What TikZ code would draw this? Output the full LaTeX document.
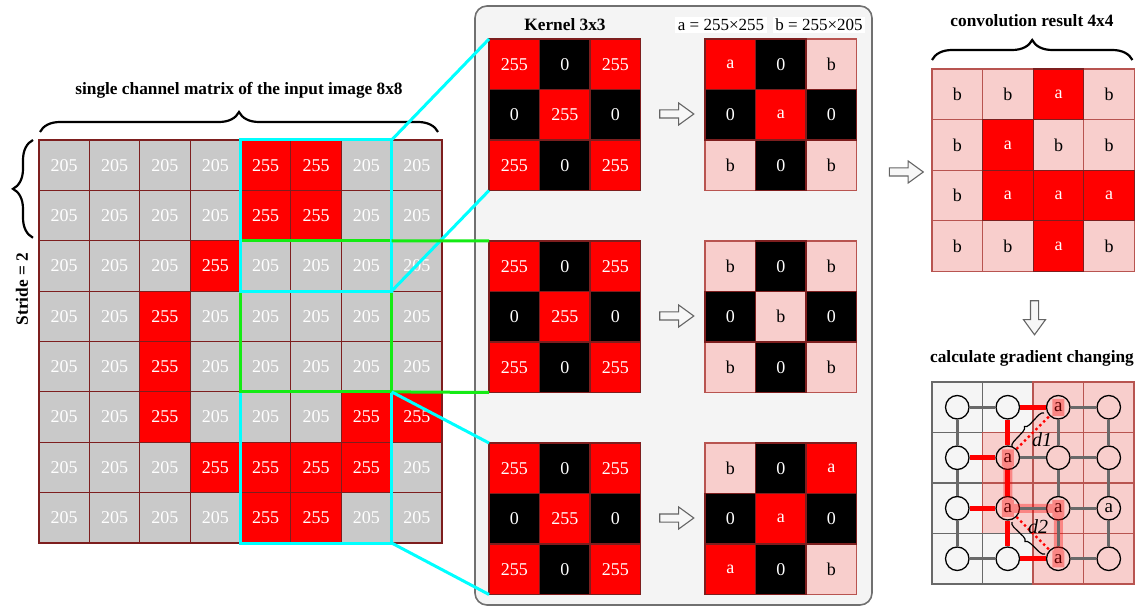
\documentclass[tikz,border=0pt]{standalone}
\usepackage{fontspec}
\setmainfont{Liberation Serif}
\usetikzlibrary{shapes.arrows,decorations.pathreplacing,calc}
\definecolor{maroonb}{RGB}{125,30,30}
\definecolor{cellgray}{RGB}{201,201,201}
\definecolor{pinkc}{RGB}{248,206,204}
\definecolor{pinkb}{RGB}{184,84,80}
\definecolor{panelf}{RGB}{244,244,244}
\definecolor{panelb}{RGB}{112,112,112}
\definecolor{cyanl}{RGB}{0,255,255}
\definecolor{greenl}{RGB}{20,235,20}
\definecolor{gridg}{RGB}{105,105,105}
\definecolor{lightg}{RGB}{245,245,245}
\definecolor{arrowb}{RGB}{100,100,100}
\begin{document}
\begin{tikzpicture}[x=1pt,y=-1pt,
  cellfont/.style={font=\fontsize{18}{18}\selectfont},
  cellbox/.style={draw=maroonb, line width=1.2pt, inner sep=0pt, outer sep=0pt, cellfont},
  in0/.style={cellbox, fill=cellgray, text=white},
  in1/.style={cellbox, fill=red, text=white},
  kc0/.style={cellbox, fill=black, text=white},
  kc1/.style={cellbox, fill=red, text=white},
  rc0/.style={cellbox, fill=black, text=white},
  rc1/.style={cellbox, fill=red, text=white},
  rc2/.style={cellbox, fill=pinkc, draw=pinkb, text=black},
  gc0/.style={draw=gridg, line width=1.1pt, fill=lightg, inner sep=0pt, outer sep=0pt, minimum size=50.5pt},
  gc1/.style={draw=pinkb, line width=1.1pt, fill=pinkc, inner sep=0pt, outer sep=0pt, minimum size=50.5pt},
  dot/.style={circle, draw=black, line width=1.3pt, minimum size=23.5pt, inner sep=0pt, font=\fontsize{19}{19}\selectfont},
  title/.style={font=\fontsize{17.3}{17.3}\selectfont\bfseries, inner sep=1pt},
  eqlabel/.style={font=\fontsize{17}{17}\selectfont, fill=white, inner sep=2.5pt},
  hollowarrow/.style={single arrow, draw=arrowb, fill=white!97!black, line width=1.1pt, inner xsep=0pt, inner ysep=3.5pt,
    minimum height=34pt, minimum width=21pt, single arrow head extend=7pt, single arrow tip angle=72},
  bracestyle/.style={decorate, decoration={brace, amplitude=20pt, aspect=0.5}, line width=2.2pt},
  smallbrace/.style={decorate, decoration={brace, amplitude=5pt, aspect=0.5}, line width=1.2pt},
  cyanline/.style={cyanl, line width=3pt},
  greenline/.style={greenl, line width=3pt},
  greyedge/.style={gridg, line width=3pt},
  rededge/.style={red, line width=5pt},
  reddots/.style={red, line width=2.4pt, dash pattern=on 2.4pt off 3pt},
]
\useasboundingbox (0,0) rectangle (1137,609);

% ---------- input matrix ----------
\foreach \vals [count=\rr from 0] in {{0,0,0,0,1,1,0,0},{0,0,0,0,1,1,0,0},{0,0,0,1,0,0,0,0},{0,0,1,0,0,0,0,0},{0,0,1,0,0,0,0,0},{0,0,1,0,0,0,1,1},{0,0,0,1,1,1,1,0},{0,0,0,0,1,1,0,0}}{
  \foreach \v [count=\cc from 0] in \vals {
    \node[in\v, minimum size=50.375pt] (in-\rr-\cc) at ({39+50.375*(\cc+0.5)},{140+50.375*(\rr+0.5)}) {\ifcase\v\relax 205\or 255\fi};
  }
}

\node[title] (intitle) at (239,90) {single channel matrix of the input image 8x8};
\draw[bracestyle] ($(in-0-0.north west)+(1,-8)$) -- ($(in-0-7.north east)+(-4,-8)$);
\draw[bracestyle] ($(in-1-0.south west)+(-6,-3)$) -- ($(in-0-0.north west)+(-6,0)$);
\node[title, rotate=90] (stride) at (22,289) {Stride = 2};

% ---------- panel ----------
\node[draw=panelb, fill=panelf, line width=1.6pt, rounded corners=12pt, minimum width=397pt, minimum height=599pt, inner sep=0pt] (panel) at (673.5,305.5) {};

% kernels
\foreach \k/\t in {1/39,2/241,3/443}{
  \foreach \v [count=\i from 0] in {1,0,1,0,1,0,1,0,1}{
    \pgfmathtruncatemacro\rr{\i/3}
    \pgfmathtruncatemacro\cc{mod(\i,3)}
    \node[kc\v, minimum size=50.5pt] (k\k-\rr-\cc) at ({489+50.5*(\cc+0.5)},{\t+50.5*(\rr+0.5)}) {\ifcase\v\relax 0\or 255\fi};
  }
}
% results
\foreach \k/\t/\vals in {1/39/{1,0,2,0,1,0,2,0,2},2/241/{2,0,2,0,2,0,2,0,2},3/443/{2,0,1,0,1,0,1,0,2}}{
  \foreach \v [count=\i from 0] in \vals {
    \pgfmathtruncatemacro\rr{\i/3}
    \pgfmathtruncatemacro\cc{mod(\i,3)}
    \node[rc\v, minimum size=50.5pt] (r\k-\rr-\cc) at ({705+50.5*(\cc+0.5)},{\t+50.5*(\rr+0.5)}) {\ifcase\v\relax 0\or a\or b\fi};
  }
  \foreach \v [count=\i from 0] in \vals {
    \pgfmathtruncatemacro\rr{\i/3}
    \pgfmathtruncatemacro\cc{mod(\i,3)}
    \ifnum\v=2\relax\else
      \draw[maroonb, line width=1.2pt] (r\k-\rr-\cc.north west) rectangle (r\k-\rr-\cc.south east);
    \fi
  }
}

\node[title] (ktitle) at (565,25) {Kernel 3x3};
\node[eqlabel] (alabel) at (721,25) {a = 255×255};
\node[eqlabel] (blabel) at (819,25) {b = 255×205};

\node[hollowarrow] (ar1) at (674,114) {};
\node[hollowarrow] (ar2) at (674,316) {};
\node[hollowarrow] (ar3) at (674,518) {};

% ---------- windows and connectors ----------
\draw[cyanline] (in-5-4.north west) rectangle (in-7-6.south east);
\draw[greenline] (in-2-4.north west) rectangle (in-4-6.south east);
\draw[cyanline] (in-0-4.north west) rectangle (in-2-6.south east);
\draw[cyanline] (in-0-6.north east) -- (k1-0-0.north west);
\draw[cyanline] (in-2-6.south east) -- (k1-2-0.south west);
\draw[greenline] (in-2-6.north east) -- (k2-0-0.north west);
\draw[greenline] (in-4-6.south east) -- (k2-2-0.south west);
\draw[cyanline] (in-5-6.north east) -- (k3-0-0.north west);
\draw[cyanline] (in-7-6.south east) -- (k3-2-0.south west);

% ---------- convolution result ----------
\node[hollowarrow] (arres) at (903.5,172) {};
\foreach \v [count=\i from 0] in {2,2,1,2,2,1,2,2,2,1,1,1,2,2,1,2}{
  \pgfmathtruncatemacro\rr{\i/4}
  \pgfmathtruncatemacro\cc{mod(\i,4)}
  \node[rc\v, minimum size=50.6pt] (res-\rr-\cc) at ({932+50.6*(\cc+0.5)},{69+50.6*(\rr+0.5)}) {\ifcase\v\relax 0\or a\or b\fi};
}
\foreach \v [count=\i from 0] in {2,2,1,2,2,1,2,2,2,1,1,1,2,2,1,2}{
  \pgfmathtruncatemacro\rr{\i/4}
  \pgfmathtruncatemacro\cc{mod(\i,4)}
  \ifnum\v=1\relax
    \draw[maroonb, line width=1.2pt] (res-\rr-\cc.north west) rectangle (res-\rr-\cc.south east);
  \fi
}
\node[title] (restitle) at (1032,21) {convolution result 4x4};
\draw[bracestyle] ($(res-0-0.north west)+(0,-9)$) -- ($(res-0-3.north east)+(-2,-9)$);

\node[hollowarrow, rotate=-90] (ardown) at (1034.5,315) {};
\node[title] (gradtitle) at (1032,358) {calculate gradient changing};

% ---------- gradient grid ----------
\foreach \v [count=\i from 0] in {0,0,1,1,0,1,1,1,0,1,1,1,0,0,1,1}{
  \pgfmathtruncatemacro\rr{\i/4}
  \pgfmathtruncatemacro\cc{mod(\i,4)}
  \node[gc\v] (gc-\rr-\cc) at ({932+50.5*(\cc+0.5)},{382+50.5*(\rr+0.5)}) {};
}
\foreach \v [count=\i from 0] in {0,0,1,0,0,1,0,0,0,1,1,1,0,0,1,0}{
  \pgfmathtruncatemacro\rr{\i/4}
  \pgfmathtruncatemacro\cc{mod(\i,4)}
  \node[dot] (g-\rr-\cc) at (gc-\rr-\cc.center) {\ifcase\v\or a\fi};
}
% highlight
\begin{scope}[transparency group, opacity=0.35]
  \draw[red, line width=9pt] (g-1-1.center) -- (g-2-1.center) -- (g-2-2.center) -- (g-3-2.center);
  \foreach \n in {g-0-2,g-1-1,g-2-1,g-2-2,g-3-2}{
    \fill[red] ($(\n.center)+(-6,-8.5)$) rectangle ($(\n.center)+(6,8.5)$);
  }
\end{scope}
% edges
\foreach \a/\b in {g-0-0/g-0-1,g-0-2/g-0-3,g-1-1/g-1-2,g-1-2/g-1-3,g-2-1/g-2-2,g-2-2/g-2-3,g-3-0/g-3-1,g-3-2/g-3-3,
  g-0-0/g-1-0,g-1-0/g-2-0,g-2-0/g-3-0,g-0-2/g-1-2,g-1-2/g-2-2,g-2-2/g-3-2,g-0-3/g-1-3,g-1-3/g-2-3,g-2-3/g-3-3}{
  \draw[greyedge] (\a) -- (\b);
}
\foreach \a/\b in {g-0-1/g-0-2,g-1-0/g-1-1,g-2-0/g-2-1,g-3-1/g-3-2,g-0-1/g-1-1,g-1-1/g-2-1,g-2-1/g-3-1}{
  \draw[rededge] (\a) -- (\b);
}
\draw[reddots] (g-1-1) -- (g-0-2);
\draw[reddots] (g-2-1) -- (g-3-2);
\coordinate (d1s) at (1012,447);
\coordinate (d1e) at (1044,413);
\coordinate (d2s) at (1045,554);
\coordinate (d2e) at (1012,522);
\draw[smallbrace] (d1s) -- (d1e);
\draw[smallbrace] (d2s) -- (d2e);
\node[font=\fontsize{20}{20}\selectfont\itshape, inner sep=0pt] (d1) at (1042,440) {d1};
\node[font=\fontsize{20}{20}\selectfont\itshape, inner sep=0pt] (d2) at (1038,527) {d2};
\end{tikzpicture}
\end{document}
